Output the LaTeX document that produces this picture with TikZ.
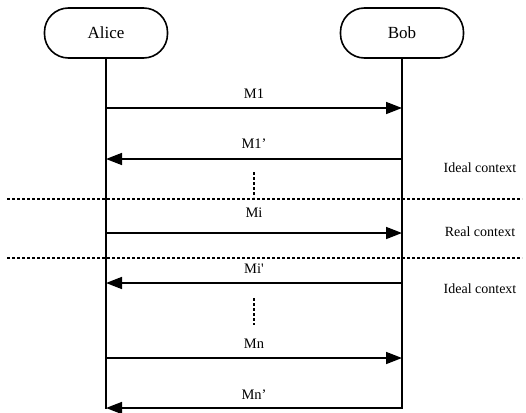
\documentclass[tikz,border=0pt]{standalone}
\usepackage{fontspec}
\setmainfont{Liberation Serif}
\usetikzlibrary{arrows.meta}

\begin{document}
\begin{tikzpicture}[
    x=1pt, y=-1pt,
    >={Triangle[length=16pt, width=12pt]},
    party/.style={rectangle, draw, line width=1.6pt, rounded corners=24pt, minimum width=123pt, minimum height=50pt, font=\fontsize{17}{20}\selectfont},
    lifeline/.style={line width=1.6pt},
    msg/.style={->, line width=1.6pt},
    msglabel/.style={font=\fontsize{14.5}{17}\selectfont},
    divider/.style={line width=1.2pt, dash pattern=on 3pt off 2pt},
    gap/.style={line width=1.6pt, dash pattern=on 3pt off 2pt},
    ctxlabel/.style={font=\fontsize{14}{17}\selectfont}
]
    \useasboundingbox (0,0) rectangle (526,412);

    % Participants
    \node (alice) [party] at (106,33) {Alice};
    \node (bob) [party] at (402,33) {Bob};

    % Lifelines
    \coordinate (alice_end) at (106,409);
    \coordinate (bob_end) at (402,409);
    \draw [lifeline] (alice) -- (alice_end);
    \draw [lifeline] (bob) -- (bob_end);

    % Message end points
    \foreach \name/\ypos in {m1/108, m1r/159, mi/233, mir/283, mn/358, mnr/408} {
        \coordinate (alice_\name) at (106,\ypos);
        \coordinate (bob_\name) at (402,\ypos);
    }

    % Messages
    \draw [msg] (alice_m1) -- node[msglabel, above=5pt] {M1} (bob_m1);
    \draw [msg] (bob_m1r) -- node[msglabel, above=6pt] {M1’} (alice_m1r);
    \draw [msg] (alice_mi) -- node[msglabel, above=11pt] {Mi} (bob_mi);
    \draw [msg] (bob_mir) -- node[msglabel, above=5pt] {Mi\textquotesingle} (alice_mir);
    \draw [msg] (alice_mn) -- node[msglabel, above=5pt] {Mn} (bob_mn);
    \draw [msg] (bob_mnr) -- node[msglabel, above=4pt] {Mn’} (alice_mnr);

    % Omitted messages
    \coordinate (gap1_top) at (254,172);
    \coordinate (gap1_bot) at (254,197);
    \coordinate (gap2_top) at (254,298);
    \coordinate (gap2_bot) at (254,325);
    \draw [gap] (gap1_top) -- (gap1_bot);
    \draw [gap] (gap2_top) -- (gap2_bot);

    % Context boundaries
    \coordinate (div1_l) at (7,199);
    \coordinate (div1_r) at (522,199);
    \coordinate (div2_l) at (7,258);
    \coordinate (div2_r) at (522,258);
    \draw [divider] (div1_l) -- (div1_r);
    \draw [divider] (div2_l) -- (div2_r);

    % Context labels
    \node (ideal_top) [ctxlabel] at (480,168) {Ideal context};
    \node (real) [ctxlabel] at (480,232) {Real context};
    \node (ideal_bot) [ctxlabel] at (480,289) {Ideal context};

\end{tikzpicture}
\end{document}
